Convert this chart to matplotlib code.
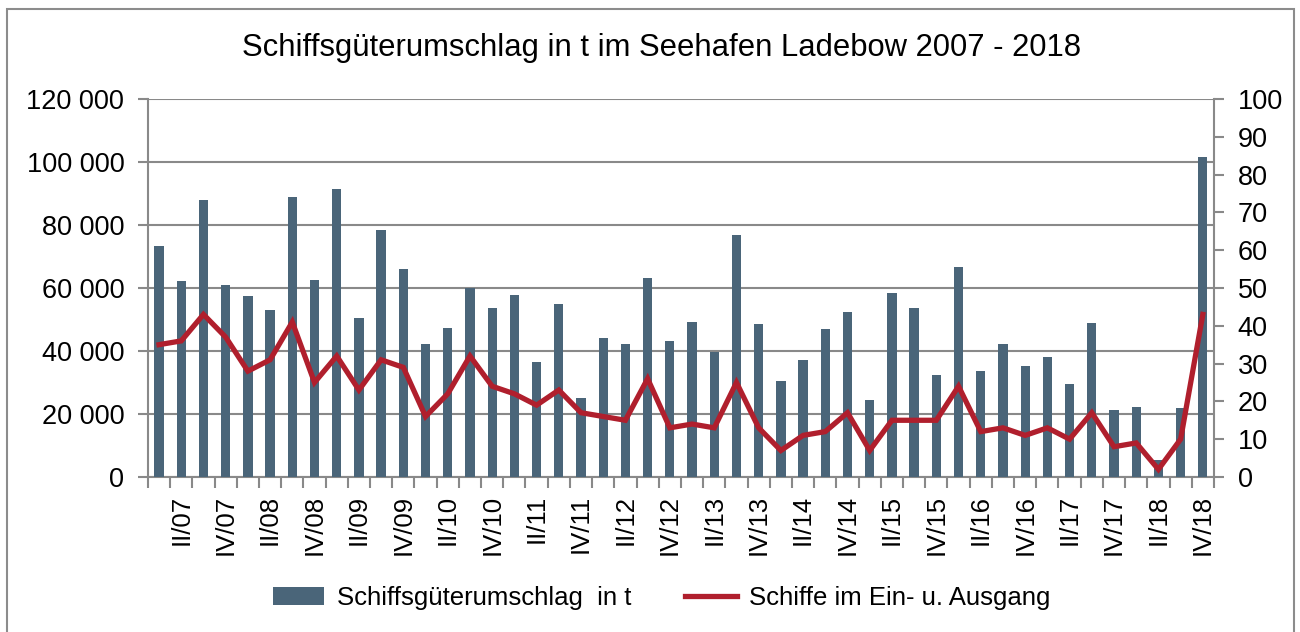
import matplotlib
matplotlib.use("Agg")
import matplotlib.pyplot as plt
from matplotlib.patches import Rectangle
from matplotlib.ticker import FuncFormatter

plt.rcParams['font.family'] = ['Liberation Sans', 'DejaVu Sans']

# Quartale 2007 - 2018
years = list(range(7, 19))
quarters = ['I', 'II', 'III', 'IV']
labels = [f"{q}/{y:02d}" for y in years for q in quarters]

# Schiffsgueterumschlag in t (je Quartal)
tonnage = [73200, 62100, 87900, 60900, 57600, 52900, 88800, 62500,
           91300, 50400, 78300, 66000, 42300, 47300, 60100, 53800,
           57900, 36400, 54800, 25200, 44100, 42200, 63200, 43100,
           49300, 39600, 76800, 48500, 30400, 37200, 46900, 52300,
           24300, 58500, 53700, 32300, 66600, 33500, 42300, 35200,
           38200, 29400, 48800, 21400, 22100, 5300, 21900, 101700]

# Schiffe im Ein- u. Ausgang
ships = [35, 36, 43, 37, 28, 31, 41, 25,
         32, 23, 31, 29, 16, 22, 32, 24,
         22, 19, 23, 17, 16, 15, 26, 13,
         14, 13, 25, 13, 7, 11, 12, 17,
         7, 15, 15, 15, 24, 12, 13, 11,
         13, 10, 17, 8, 9, 2, 10, 43]

bar_color = '#4a6579'
line_color = '#b01f2d'
grid_color = '#898989'

fig = plt.figure(figsize=(13, 6.32), dpi=100)
ax = fig.add_axes([0.1138, 0.2453, 0.8200, 0.5981])

x = list(range(len(labels)))
bars = ax.bar(x, tonnage, width=0.42, color=bar_color, zorder=3,
              label='Schiffsgüterumschlag  in t')

ax.set_xlim(-0.5, len(labels) - 0.5)
ax.set_ylim(0, 120000)
ax.set_yticks(range(0, 120001, 20000))
ax.yaxis.set_major_formatter(FuncFormatter(lambda v, p: f"{int(v):,}".replace(',', ' ')))
ax.yaxis.grid(True, color=grid_color, linewidth=1.5, zorder=0)
ax.set_axisbelow(True)

# category boundary ticks, labels only at II and IV quarters
ax.set_xticks([i - 0.5 for i in range(len(labels) + 1)])
ax.set_xticklabels([])
ax.set_xticks(x[1::2], minor=True)
ax.set_xticklabels(labels[1::2], minor=True, rotation=90, fontsize=18.5)
ax.tick_params(axis='x', which='major', length=8, width=1.5, color=grid_color, direction='out')
ax.tick_params(axis='x', which='minor', length=0, pad=13)
ax.tick_params(axis='y', length=7, width=1.5, color=grid_color, labelsize=19.5, pad=10)

for s in ['top', 'right']:
    ax.spines[s].set_visible(False)
for s in ['left', 'bottom']:
    ax.spines[s].set_color(grid_color)
    ax.spines[s].set_linewidth(1.5)

ax2 = ax.twinx()
line, = ax2.plot(x, ships, color=line_color, linewidth=3.8, zorder=4,
                 solid_joinstyle='miter', label='Schiffe im Ein- u. Ausgang')
ax2.set_ylim(0, 100)
ax2.set_yticks(range(0, 101, 10))
ax2.tick_params(axis='y', length=7, width=1.5, color=grid_color, labelsize=19.5, pad=10)
for s in ['top', 'left', 'bottom']:
    ax2.spines[s].set_visible(False)
ax2.spines['right'].set_color(grid_color)
ax2.spines['right'].set_linewidth(1.5)

fig.text(0.509, 0.924, 'Schiffsgüterumschlag in t im Seehafen Ladebow 2007 - 2018',
         ha='center', va='center', fontsize=22.3)

fig.legend([bars, line], ['Schiffsgüterumschlag  in t', 'Schiffe im Ein- u. Ausgang'],
           loc='center', bbox_to_anchor=(0.509, 0.054), ncol=2, frameon=False,
           fontsize=18.5, handlelength=2.0, handletextpad=0.5, columnspacing=2.1)

# outer frame of the chart
fig.patches.append(Rectangle((0.0055, -0.02), 0.99, 1.006, transform=fig.transFigure,
                             fill=False, edgecolor='#8c8c8c', linewidth=1.5))

fig.savefig('out.png', dpi=100)
